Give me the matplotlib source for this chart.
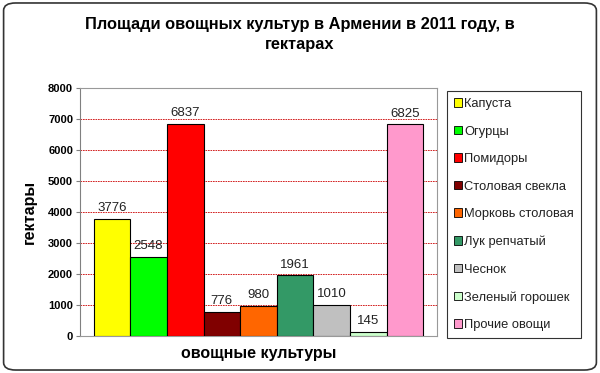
import matplotlib.pyplot as plt
from matplotlib.patches import FancyBboxPatch, Patch

plt.rcParams['font.family'] = ['Liberation Sans', 'DejaVu Sans']

crops = ["Капуста", "Огурцы", "Помидоры", "Столовая свекла", "Морковь столовая",
         "Лук репчатый", "Чеснок", "Зеленый горошек", "Прочие овощи"]
areas = [3776, 2548, 6837, 776, 980, 1961, 1010, 145, 6825]
colors = ["#FFFF00", "#00FF00", "#FF0000", "#800000", "#FF6600",
          "#339966", "#C0C0C0", "#CCFFCC", "#FF99CC"]
yticks = [0, 1000, 2000, 3000, 4000, 5000, 6000, 7000, 8000]

fig = plt.figure(figsize=(6, 3.73), dpi=100)
fig.patches.append(FancyBboxPatch((0.006, 0.008), 0.988, 0.984,
                                  boxstyle="round,pad=0,rounding_size=0.02",
                                  transform=fig.transFigure, facecolor="none",
                                  edgecolor="#333333", linewidth=1.2, zorder=-1))

ax = fig.add_axes([0.1333, 0.0992, 0.595, 0.665])
xs = list(range(len(crops)))
ax.bar(xs, areas, width=1.0, color=colors, edgecolor="black", linewidth=0.8, zorder=3)
for x, v in zip(xs, areas):
    ax.text(x, v + 150, str(v), ha="center", va="bottom", fontsize=9.5,
            color="#222222", zorder=4)

ax.set_xlim(-0.87, 8.87)
ax.set_ylim(0, 8000)
ax.set_yticks(yticks)
ax.set_yticklabels([str(t) for t in yticks], fontsize=8, fontweight="bold")
ax.set_xticks([])
for t in yticks[1:-1]:
    ax.axhline(t, color="#CC0000", linestyle=(0, (2, 1)), linewidth=0.6, zorder=1)

for s in ["top", "right", "bottom"]:
    ax.spines[s].set_color("#999999")
    ax.spines[s].set_linewidth(0.8)
ax.spines["left"].set_color("#808080")
ax.tick_params(axis="y", length=3, color="#808080", pad=2)

ax.set_ylabel("гектары", fontsize=11.5, fontweight="bold", labelpad=8)
ax.set_xlabel("овощные культуры", fontsize=11.5, fontweight="bold", labelpad=7)

fig.suptitle("Площади овощных культур в Армении в 2011 году, в\nгектарах",
             x=0.5, y=0.955, fontsize=11.8, fontweight="bold", linespacing=1.4)

handles = [Patch(facecolor=c, edgecolor="black", linewidth=0.6) for c in colors]
leg = fig.legend(handles, crops, loc="upper left",
                 bbox_to_anchor=(447 / 600, 1 - 91 / 373), fontsize=9.3,
                 handlelength=0.6, handleheight=0.6, handletextpad=0.2,
                 labelspacing=1.2, borderpad=0.55, frameon=True, fancybox=False,
                 edgecolor="black", borderaxespad=0)
leg.get_frame().set_linewidth(0.8)
for t in leg.get_texts():
    t.set_color("#222222")

fig.savefig("out.png", dpi=100)
